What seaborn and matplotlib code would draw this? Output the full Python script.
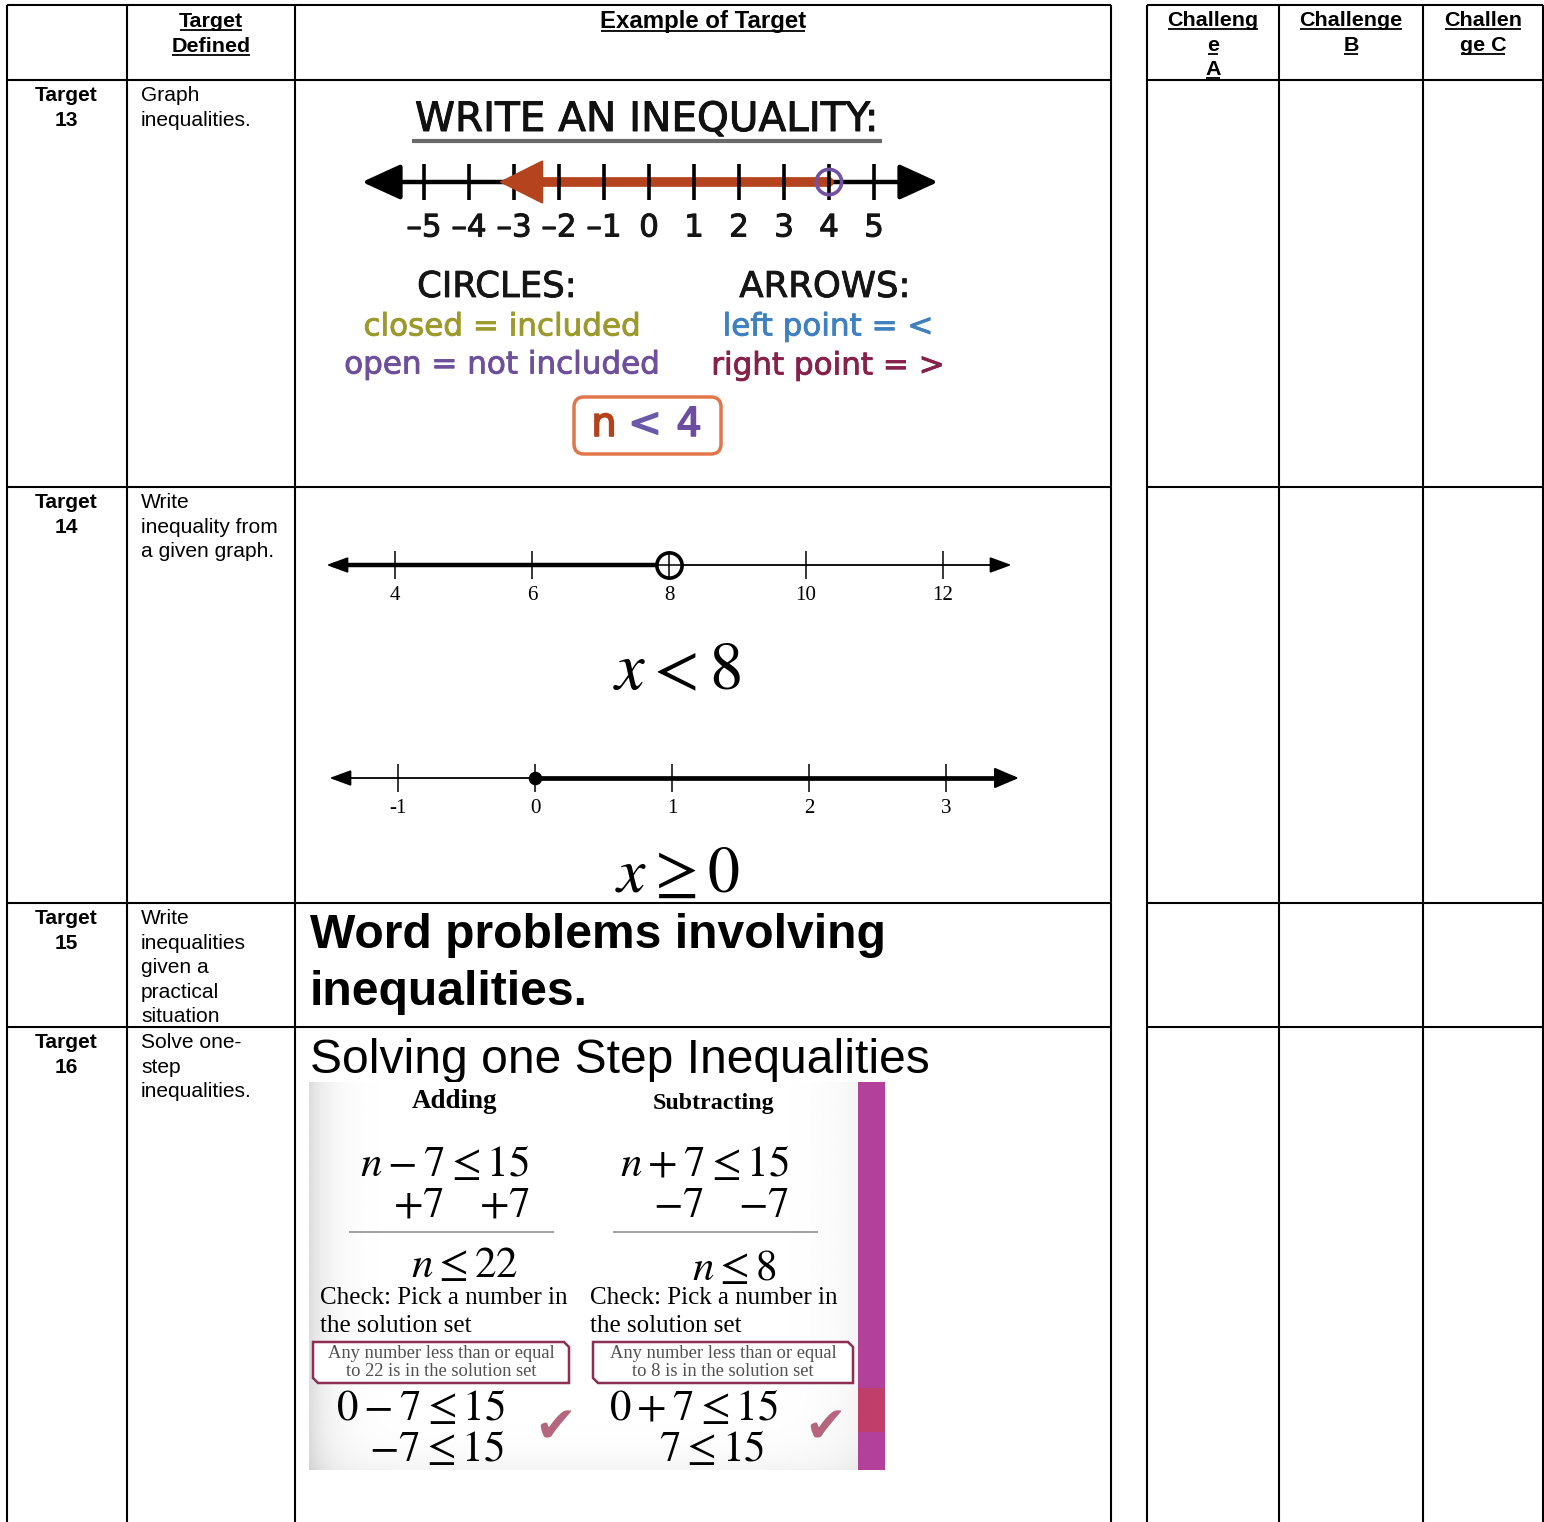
import numpy as np
import matplotlib
matplotlib.use("Agg")
import matplotlib.pyplot as plt
import matplotlib.patheffects as pe
from matplotlib.patches import Polygon, FancyBboxPatch
import seaborn as sns

sns.set_theme(style="white")
plt.rcParams['font.family'] = ['Liberation Sans', 'DejaVu Sans']
plt.rcParams['mathtext.fontset'] = 'stix'
plt.rcParams['text.color'] = 'black'

W, H = 1544, 1522

# ---- donnees du tableau ----
header_defined = ["Target", "Defined"]
header_example = "Example of Target"
challenge_headers = [["Challeng", "e", "A"], ["Challenge", "B"], ["Challen", "ge C"]]
target_ids = ["13", "14", "15", "16"]
target_defs = [
    ["Graph", "inequalities."],
    ["Write", "inequality from", "a given graph."],
    ["Write", "inequalities", "given a", "practical", "situation"],
    ["Solve one-", "step", "inequalities."],
]

# ---- droites numeriques ----
nl1_ticks = list(range(-5, 6))
nl1_bound = 4            # cercle ouvert, n < 4
nl1_arrow_to = -3.3      # pointe de la fleche rouge
nl2_ticks = [4, 6, 8, 10, 12]
nl2_bound = 8            # x < 8
nl3_ticks = [-1, 0, 1, 2, 3]
nl3_bound = 0            # x >= 0

# ---- textes de l'exemple 16 ----
adding_steps = [r"$n-7\leq15$", r"$n\leq22$", r"$0-7\leq15$", r"$-7\leq15$"]
subtract_steps = [r"$n+7\leq15$", r"$n\leq8$", r"$0+7\leq15$", r"$7\leq15$"]
box_texts = [["Any number less than or equal", "to 22 is in the solution set"],
             ["Any number less than or equal", "to 8 is in the solution set"]]

# mise en page (pixels)
cols_left = [7, 127, 295, 1111]
cols_right = [1147, 1279, 1423, 1543]
rows_y = [5, 80, 487, 903, 1027]
line_step = 24.6


def pt(px):
    return px * 0.72


fig = plt.figure(figsize=(W / 100, H / 100), dpi=100)
ax = fig.add_axes([0, 0, 1, 1])
ax.set_xlim(0, W)
ax.set_ylim(H, 0)
ax.axis('off')

# lignes du tableau
for cols in (cols_left, cols_right):
    ax.vlines(cols, rows_y[0], H + 5, color='black', lw=1.5, zorder=10)
    ax.hlines(rows_y, cols[0], cols[-1], color='black', lw=1.5, zorder=10)

underlined = []
# en-tetes
for i, s in enumerate(header_defined):
    underlined.append(ax.text(211, 27 + i * line_step, s, ha='center', va='baseline',
                              fontsize=pt(21.5), fontweight='bold'))
underlined.append(ax.text(703, 28, header_example, ha='center', va='baseline',
                          fontsize=pt(24), fontweight='bold'))
for (x0, x1), lines in zip(zip(cols_right[:-1], cols_right[1:]), challenge_headers):
    for i, s in enumerate(lines):
        underlined.append(ax.text((x0 + x1) / 2, 26 + i * line_step, s, ha='center',
                                  va='baseline', fontsize=pt(21.5), fontweight='bold'))

# colonnes Target / definition
for r, (tid, lines) in enumerate(zip(target_ids, target_defs)):
    y0 = rows_y[r + 1] + 21
    ax.text(66, y0, "Target", ha='center', va='baseline', fontsize=pt(21), fontweight='bold')
    ax.text(66, y0 + line_step, tid, ha='center', va='baseline', fontsize=pt(21), fontweight='bold')
    for i, s in enumerate(lines):
        ax.text(141, y0 + i * line_step, s, ha='left', va='baseline', fontsize=pt(21))

# ---------- Target 13 : image "write an inequality" ----------
comic = 'DejaVu Sans'


def ctext(x, y, s, size, color='black', lw=0.6, **kw):
    return ax.text(x, y, s, ha='center', va='center', fontsize=pt(size), color=color,
                   family=comic,
                   path_effects=[pe.withStroke(linewidth=lw, foreground=color)], **kw)


ctext(647, 120, "WRITE AN INEQUALITY:", 40.5, color='#111111', lw=0.7)
ax.hlines(141, 412, 882, color='#6a6a6a', lw=3)
ctext(497, 287, "CIRCLES:", 35.5, color='#151515', lw=0.6)
ctext(825, 287, "ARROWS:", 35.5, color='#151515', lw=0.6)
ctext(502, 327, "closed = included", 31, color='#9c9a2c')
ctext(502, 365, "open = not included", 31, color='#6e4f9c')
ctext(828, 327, "left point = <", 31, color='#3f80c0')
ctext(828, 366, "right point = >", 31, color='#87204a')
ax.add_patch(FancyBboxPatch((574, 397), 147, 57, boxstyle="round,pad=0,rounding_size=10",
                            fc='white', ec='#e0764a', lw=2.5))
ctext(604, 425, "n", 40, color='#b3421d', lw=1.2)
ctext(645, 425, "<", 40, color='#6a58a8', lw=1.2)
ctext(689, 425, "4", 40, color='#6e4da0', lw=1.2)


def nl_axes(px0, px1, py, v0, p0, v1, p1, half=60):
    b = (p1 - p0) / (v1 - v0)
    a = p0 - b * v0
    nax = fig.add_axes([px0 / W, 1 - (py + half) / H, (px1 - px0) / W, 2 * half / H])
    nax.set_xlim((px0 - a) / b, (px1 - a) / b)
    nax.set_ylim(half, -half)
    nax.axis('off')
    return nax, b


red = '#b4431e'
ax1, b1 = nl_axes(330, 970, 182, -5, 424, 5, 874)
lo1, hi1 = nl1_ticks[0] - 62 / b1, nl1_ticks[-1] + 64 / b1
ax1.annotate('', xy=(hi1, 0), xytext=(lo1, 0), zorder=1,
             arrowprops=dict(arrowstyle='<|-|>,head_length=0.7,head_width=0.32',
                             mutation_scale=34, lw=3.2, color='black', shrinkA=0, shrinkB=0))
head = 42 / b1
sns.lineplot(x=[nl1_arrow_to + head * 0.8, nl1_bound], y=[0, 0], ax=ax1, color=red,
             linewidth=7, zorder=2)
ax1.vlines(nl1_ticks, -18, 18, color='black', lw=2.6, zorder=3)
ax1.add_patch(Polygon([[nl1_arrow_to, 0], [nl1_arrow_to + head, -21], [nl1_arrow_to + head, 21]],
                      closed=True, color=red, zorder=4))
sns.scatterplot(x=[nl1_bound], y=[0], ax=ax1, s=330, marker='o', facecolor='none',
                edgecolor='#7352a6', linewidth=2.6, zorder=5)
for t in nl1_ticks:
    ax1.text(t, 46, str(t).replace('-', '\u2013'), ha='center', va='center',
             fontsize=pt(31), family=comic, color='#151515',
             path_effects=[pe.withStroke(linewidth=0.7, foreground='#151515')])

# ---------- Target 14 : deux graphes ----------
serif = 'Liberation Serif'
ax2, b2 = nl_axes(315, 1025, 565, 4, 395, 12, 943)
ax2.annotate('', xy=(13.0, 0), xytext=(3.0, 0),
             arrowprops=dict(arrowstyle='<|-|>,head_length=0.6,head_width=0.22',
                             mutation_scale=22, lw=1.3, color='black', shrinkA=0, shrinkB=0))
sns.lineplot(x=[3.1, nl2_bound], y=[0, 0], ax=ax2, color='black', linewidth=3.2)
ax2.vlines(nl2_ticks, -14, 14, color='black', lw=1.1)
sns.scatterplot(x=[nl2_bound], y=[0], ax=ax2, s=330, marker='o', facecolor='white',
                edgecolor='black', linewidth=2.6, zorder=5)
ax2.vlines([nl2_bound], -12, 12, color='black', lw=1.1, zorder=6)
ax2.hlines([0], nl2_bound - 0.17, nl2_bound + 0.17, color='black', lw=1.1, zorder=6)
for t in nl2_ticks:
    ax2.text(t, 31, str(t), ha='center', va='center', fontsize=pt(21), family=serif)
ax.text(677, 672, r"$x<8$", ha='center', va='center', fontsize=48)

ax3, b3 = nl_axes(315, 1030, 778, -1, 398, 3, 946)
ax3.annotate('', xy=(3.53, 0), xytext=(-1.5, 0),
             arrowprops=dict(arrowstyle='<|-|>,head_length=0.6,head_width=0.22',
                             mutation_scale=22, lw=1.3, color='black', shrinkA=0, shrinkB=0))
sns.lineplot(x=[nl3_bound, 3.4], y=[0, 0], ax=ax3, color='black', linewidth=3.4)
ax3.annotate('', xy=(3.53, 0), xytext=(3.2, 0),
             arrowprops=dict(arrowstyle='-|>,head_length=0.7,head_width=0.3',
                             mutation_scale=22, lw=1.3, color='black', shrinkA=0, shrinkB=0))
ax3.vlines(nl3_ticks, -14, 14, color='black', lw=1.1)
sns.scatterplot(x=[nl3_bound], y=[0], ax=ax3, s=95, marker='o', color='black', linewidth=0,
                zorder=5)
for t in nl3_ticks:
    ax3.text(t, 31, str(t), ha='center', va='center', fontsize=pt(21), family=serif)
ax.text(677, 875, r"$x\geq0$", ha='center', va='center', fontsize=46)

# ---------- Target 15 ----------
ax.text(310, 948, "Word problems involving", ha='left', va='baseline',
        fontsize=pt(48), fontweight='bold')
ax.text(310, 1005, "inequalities.", ha='left', va='baseline',
        fontsize=pt(48), fontweight='bold')

# ---------- Target 16 ----------
ax.text(310, 1073, "Solving one Step Inequalities", ha='left', va='baseline', fontsize=pt(48))

ix0, ix1, iy0, iy1 = 309, 858, 1082, 1470
gx = np.linspace(0, 1, 200)
gy = np.linspace(0, 1, 120)
GX, GY = np.meshgrid(gx, gy)
shade = 1 - 0.13 * np.exp(-GX / 0.035) - 0.04 * np.exp(-(1 - GY) / 0.05) - 0.04 * np.exp(-(1 - GX) / 0.05)
ax.imshow(shade, cmap='gray', vmin=0, vmax=1, extent=(ix0, ix1, iy1, iy0), zorder=3,
          aspect='auto', interpolation='bilinear')
ax.set_xlim(0, W)
ax.set_ylim(H, 0)
ax.fill_between([858, 885], 1082, 1470, color='#b2419a', lw=0, zorder=3)
ax.fill_between([858, 885], 1388, 1432, color='#c03e6a', lw=0, zorder=3)

ax.text(455, 1101, "Adding", ha='center', va='center', fontsize=pt(27), family=serif,
        fontweight='bold', zorder=4)
ax.text(713, 1103, "Subtracting", ha='center', va='center', fontsize=pt(24), family=serif,
        fontweight='bold', zorder=4)

eq = pt(43)
for cx, steps, ops, opx, sol_x, box_x, chk_x, col_x in [
        (445, adding_steps, r"$+7$", (418, 504), 465, (313, 569), 555, 320),
        (705, subtract_steps, r"$-7$", (678, 763), 734, (593, 853), 825, 590)]:
    k = 0 if cx < 600 else 1
    ax.text(cx, 1165, steps[0], ha='center', va='center', fontsize=eq, zorder=4)
    for ox in opx:
        ax.text(ox, 1206, ops, ha='center', va='center', fontsize=eq, zorder=4)
    ax.hlines(1232, (349, 613)[k], (554, 818)[k], color='#9a9a9a', lw=1.3, zorder=4)
    ax.text(sol_x, (1266, 1269)[k], steps[1], ha='center', va='center', fontsize=eq, zorder=4)
    ax.text(col_x, 1298, "Check: Pick a number in", ha='left', va='center',
            fontsize=pt(25), family=serif, zorder=4)
    ax.text(col_x, 1326, "the solution set", ha='left', va='center',
            fontsize=pt(25), family=serif, zorder=4)
    bx0, bx1 = box_x
    ax.add_patch(Polygon([[bx0, 1342], [bx1 - 5, 1342], [bx1, 1347], [bx1, 1383],
                          [bx0 + 5, 1383], [bx0, 1378]], closed=True, fc='white',
                         ec='#8c2f52', lw=1.8, zorder=4))
    for j, s in enumerate(box_texts[k]):
        ax.text((bx0 + bx1) / 2, 1353 + j * 19, s, ha='center', va='center',
                fontsize=pt(18.5), family=serif, color='#505050', zorder=5)
    ax.text((421, 694)[k], 1409, steps[2], ha='center', va='center', fontsize=eq, zorder=4)
    ax.text((437, 712)[k], 1450, steps[3], ha='center', va='center', fontsize=eq, zorder=4)
    ax.text(chk_x, 1428, "\u2714", ha='center', va='center', fontsize=pt(50),
            family='DejaVu Sans', color='#b6657f', zorder=4)

# soulignement des en-tetes
fig.canvas.draw()
renderer = fig.canvas.get_renderer()
inv = ax.transData.inverted()
for t in underlined:
    bb = t.get_window_extent(renderer)
    (x0, _), (x1, _) = inv.transform([[bb.x0, 0], [bb.x1, 0]])
    ax.hlines(t.get_position()[1] + 3, x0 + 1, x1 - 1, color='black', lw=1.3)

fig.savefig("out.png", dpi=100)
